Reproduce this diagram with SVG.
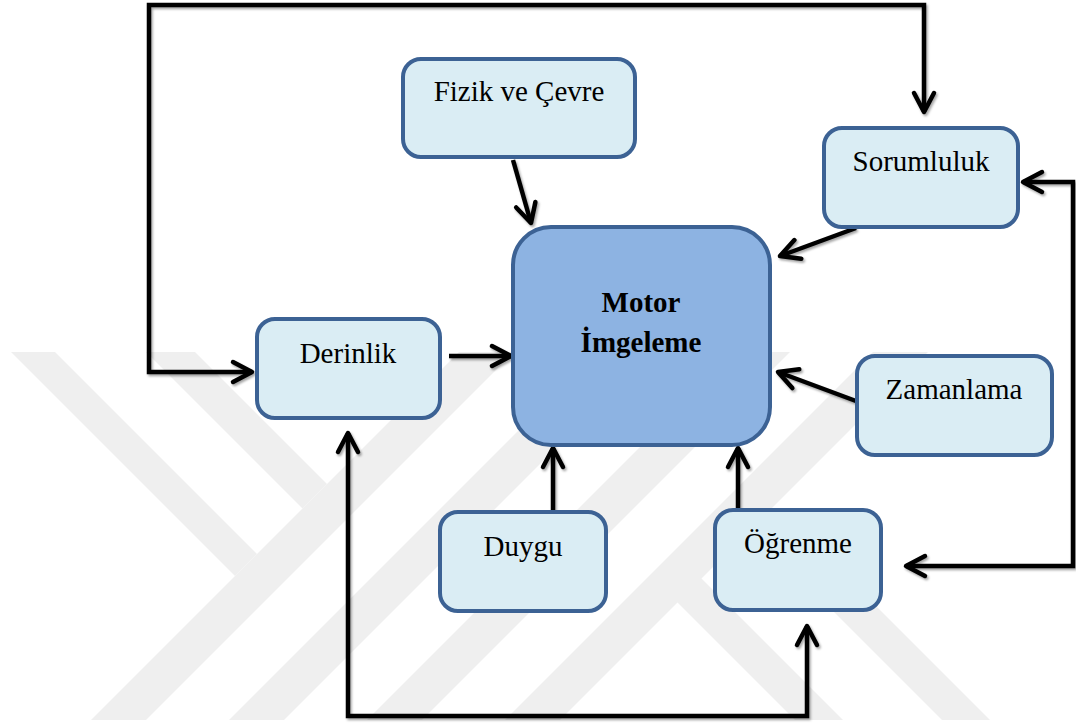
<svg xmlns="http://www.w3.org/2000/svg" width="1076" height="724" viewBox="0 0 1076 724">
  <defs>
    <style>
      .box { fill: #daedf4; stroke: #3c6294; stroke-width: 4; }
      .core { fill: #8db3e2; stroke: #3c6294; stroke-width: 4; }
      .lbl { font-family: "Liberation Serif", "Times New Roman", serif; font-size: 29px; fill: #000; text-anchor: middle; }
      .bold { font-weight: bold; }
      .wire { fill: none; stroke: #000; stroke-width: 4.5; stroke-linejoin: miter; }
      .mark { fill: #efefef; }
    </style>
    <marker id="head" markerUnits="userSpaceOnUse" viewBox="-24 -14 28 28" markerWidth="28" markerHeight="28" refX="0" refY="0" orient="auto-start-reverse">
      <path d="M-19,-10 L0,0 L-19,10" fill="none" stroke="#000" stroke-width="4.5" stroke-linecap="round" stroke-linejoin="round"/>
    </marker>
    <filter id="shade" x="-5%" y="-5%" width="110%" height="110%">
      <feDropShadow dx="1.5" dy="2" stdDeviation="1.3" flood-color="#000" flood-opacity="0.35"/>
    </filter>
    <clipPath id="markClip">
      <rect x="0" y="352" width="1076" height="368"/>
    </clipPath>
  </defs>

  <rect x="0" y="0" width="1076" height="724" fill="#ffffff"/>

  <!-- faint striped background emblem -->
  <g id="emblem" class="mark" clip-path="url(#markClip)">
    <!-- down-right strokes on the left, ending on the first rising stroke -->
    <polygon points="-30,311 14,311 257,554 235,576"/>
    <polygon points="110,316 159,316 327,484 302.5,508.5"/>
    <!-- rising strokes -->
    <polygon points="811,0 866,0 66,800 11,800"/>
    <polygon points="949,0 1004,0 204,800 149,800"/>
    <polygon points="1087,0 1142,0 342,800 287,800"/>
    <polygon points="1225,0 1280,0 480,800 425,800"/>
    <!-- down-right strokes on the right -->
    <polygon points="677,602 701,578 922,799 874,799"/>
    <polygon points="801,579 835,565 1034,764 986,764"/>
  </g>

  <g id="connectors" class="wire" filter="url(#shade)">
    <path d="M252,372 H149 V5 H924 V112" marker-start="url(#head)" marker-end="url(#head)"/>
    <path d="M1023,182 H1073 V566 H906" marker-start="url(#head)" marker-end="url(#head)"/>
    <path d="M348,433 V716 H807 V626" marker-start="url(#head)" marker-end="url(#head)"/>
    <path d="M513,160 L531,223" marker-end="url(#head)"/>
    <path d="M856,228 L780,256" marker-end="url(#head)"/>
    <path d="M449,356 H511" marker-end="url(#head)"/>
    <path d="M856,401 L778,372" marker-end="url(#head)"/>
    <path d="M553,510 V448" marker-end="url(#head)"/>
    <path d="M738,509 V448" marker-end="url(#head)"/>
  </g>

  <g id="motor-imgeleme">
    <rect class="core" x="513" y="227" width="257" height="218" rx="38" ry="38"/>
    <text class="lbl bold" x="641" y="312">Motor</text>
    <text class="lbl bold" x="641" y="352">İmgeleme</text>
  </g>

  <g id="fizik-cevre">
    <rect class="box" x="403" y="59" width="232" height="98" rx="18" ry="18"/>
    <text class="lbl" x="519" y="101">Fizik ve Çevre</text>
  </g>

  <g id="sorumluluk">
    <rect class="box" x="824" y="128" width="194" height="99" rx="18" ry="18"/>
    <text class="lbl" x="921" y="171">Sorumluluk</text>
  </g>

  <g id="derinlik">
    <rect class="box" x="257" y="319" width="183" height="99" rx="18" ry="18"/>
    <text class="lbl" x="348" y="363">Derinlik</text>
  </g>

  <g id="zamanlama">
    <rect class="box" x="857" y="356" width="195" height="99" rx="18" ry="18"/>
    <text class="lbl" x="954" y="399">Zamanlama</text>
  </g>

  <g id="duygu">
    <rect class="box" x="440" y="512" width="166" height="99" rx="18" ry="18"/>
    <text class="lbl" x="523" y="556">Duygu</text>
  </g>

  <g id="ogrenme">
    <rect class="box" x="715" y="510" width="166" height="100" rx="18" ry="18"/>
    <text class="lbl" x="798" y="553">Öğrenme</text>
  </g>
</svg>
